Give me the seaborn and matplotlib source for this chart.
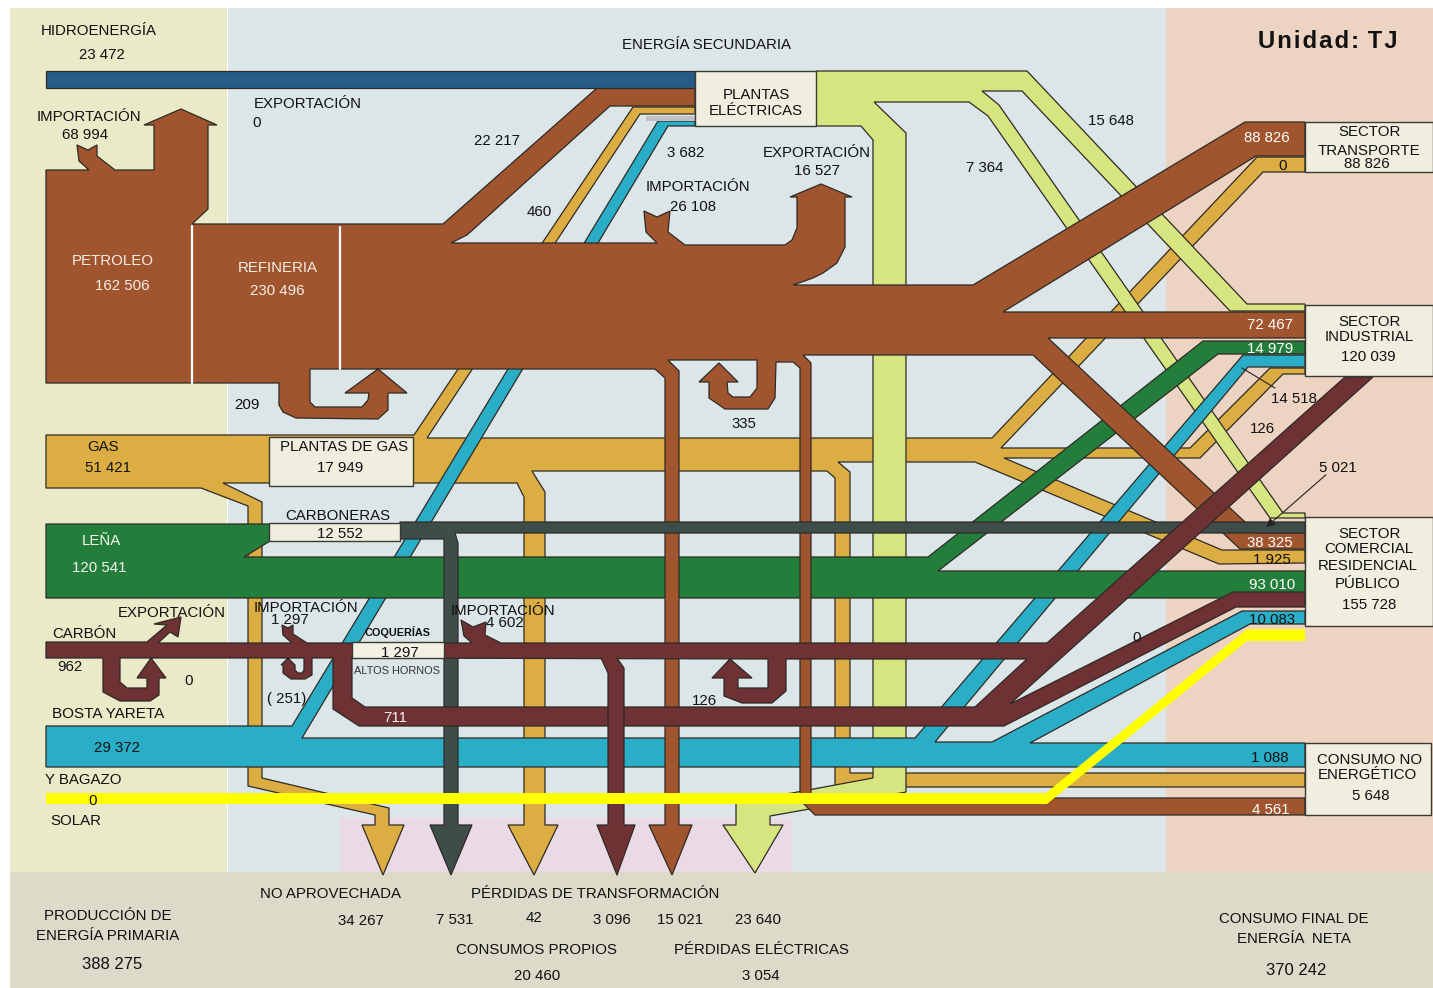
import matplotlib
matplotlib.use("Agg")
import matplotlib.pyplot as plt
from matplotlib.path import Path
from matplotlib.patches import PathPatch, Rectangle
import numpy as np
import seaborn as sns

# Values printed on the balance (TJ)
source_names = ["HIDROENERGÍA", "PETROLEO", "GAS", "LEÑA", "CARBÓN", "BOSTA YARETA", "Y BAGAZO", "SOLAR"]
source_values = ["23 472", "162 506", "51 421", "120 541", "962", "29 372", "0"]
trade_values = ["68 994", "0", "26 108", "16 527", "1 297", "4 602", "0"]
center_values = ["230 496", "17 949", "12 552", "1 297"]
loop_values = ["209", "335", "126", "( 251)", "0", "711"]
electric_inputs = ["22 217", "460", "3 682", "15 648", "7 364"]
transport_values = ["88 826", "0", "88 826"]
industry_values = ["72 467", "14 979", "14 518", "126", "5 021", "120 039"]
comercial_values = ["38 325", "1 925", "93 010", "10 083", "0", "155 728"]
nonenergy_values = ["1 088", "4 561", "5 648"]
loss_values = ["34 267", "7 531", "42", "3 096", "15 021", "23 640"]
own_use_values = ["20 460", "3 054"]
totals = ["388 275", "370 242"]

sns.set_theme(style="white")
plt.rcParams["font.family"] = ["Liberation Sans", "DejaVu Sans"]

names = ["brown", "gas", "green", "blue", "coal", "char", "light", "navy"]
pal = dict(zip(names, sns.color_palette(
    ["#A0552F", "#DCAD42", "#247E3B", "#2AADC6", "#6E3134", "#3F4D4A", "#D7E581", "#265C87"])))
edge = "#2E2A26"
box_col = "#F0EEDF"

fig, ax = plt.subplots(figsize=(14.33, 9.88), dpi=100)
fig.subplots_adjust(0, 0, 1, 1)
ax.set_xlim(0, 1433)
ax.set_ylim(988, 0)
ax.axis("off")
sns.despine(ax=ax, left=True, bottom=True)


def panel(x0, y0, x1, y1, col, z=0):
    ax.add_patch(Rectangle((x0, y0), x1 - x0, y1 - y0, fc=col, ec="none", zorder=z))


def band(pts, col, z, hole=None, lw=0.9):
    # outline of one flow, hole is an optional inner ring
    pts = list(pts)
    verts = pts + [pts[0]]
    codes = [Path.MOVETO] + [Path.LINETO] * (len(pts) - 1) + [Path.CLOSEPOLY]
    if hole is not None:
        h = list(hole)
        verts += h + [h[0]]
        codes += [Path.MOVETO] + [Path.LINETO] * (len(h) - 1) + [Path.CLOSEPOLY]
    ax.add_patch(PathPatch(Path(np.array(verts, float), codes), fc=col, ec=edge, lw=lw, zorder=z,
                           joinstyle="miter"))


def box(x0, y0, x1, y1, z=20, col=box_col):
    ax.add_patch(Rectangle((x0, y0), x1 - x0, y1 - y0, fc=col, ec="#3A3A34", lw=1.0, zorder=z))


def txt(x, y, s, col="#111111", size=10.8, **kw):
    ax.text(x, y + 1, s, color=col, fontsize=size, ha="center", va="center", zorder=40, **kw)


# background zones
panel(10, 8, 227, 872, "#EAEAC8")
panel(228, 8, 1166, 872, "#DCE6E8")
panel(1166, 8, 1433, 872, "#EDD3C1")
panel(340, 818, 792, 872, "#E9DAE5", z=0.5)
panel(10, 872, 1433, 988, "#DCDAC8", z=1)

# gas
band([(46, 435), (414, 435), (633, 107), (695, 107), (695, 114), (640, 114), (427, 438), (992, 438),
      (1257, 157), (1305, 157), (1305, 172), (1263, 172), (1001, 448), (1190, 448), (1270, 368),
      (1305, 368), (1305, 374), (1283, 374), (1200, 458), (1004, 458), (1222, 550), (1305, 550),
      (1305, 563), (1219, 564), (975, 462), (838, 462), (850, 472), (850, 773), (1305, 773),
      (1305, 787), (835, 787), (835, 478), (827, 471), (532, 471), (545, 492), (545, 825),
      (558, 825), (534, 875), (508, 825), (524, 825), (524, 497), (517, 483), (223, 483),
      (262, 502), (262, 778), (389, 808), (389, 825), (404, 825), (383, 875), (362, 825),
      (375, 825), (375, 815), (248, 786), (248, 506), (201, 488), (46, 488)], pal["gas"], 2)

# electricity out of the plants
band([(816, 71), (1027, 71), (1247, 304), (1305, 304), (1305, 311), (1230, 311), (1022, 91),
      (982, 91), (999, 105), (1283, 513), (1305, 513), (1305, 518), (1270, 518), (988, 116),
      (969, 102), (874, 102), (906, 133), (906, 792), (770, 816), (770, 825), (783, 825),
      (755, 873), (723, 825), (736, 825), (736, 803), (792, 793), (873, 778), (873, 140),
      (861, 126), (816, 126)], pal["light"], 3)

# bosta y bagazo
band([(46, 726), (292, 726), (658, 121), (695, 121), (695, 126), (668, 126), (302, 738), (915, 738),
      (1243, 355), (1305, 355), (1305, 367), (1248, 367), (935, 742), (992, 742), (1242, 611),
      (1305, 611), (1305, 624), (1250, 624), (1030, 743), (1305, 743), (1305, 767), (46, 767)],
     pal["blue"], 4)
panel(646, 116, 695, 121, "#C2C2C4", z=4.5)

# leña
band([(46, 524), (270, 524), (270, 541), (244, 557), (928, 557), (1203, 341), (1305, 341),
      (1305, 354), (1218, 354), (938, 571), (1305, 571), (1305, 598), (46, 598)], pal["green"], 5)

# petroleo, refineria y derivados
band([(46, 170), (89, 170), (79, 161), (77, 145), (88, 150), (97, 145), (97, 156), (115, 170),
      (154, 170), (154, 125), (144, 125), (181, 109), (217, 125), (208, 125), (208, 209), (192, 224),
      (443, 224), (597, 88), (695, 88), (695, 106), (610, 106), (467, 235), (451, 243), (657, 243),
      (646, 232), (644, 211), (657, 217), (670, 211), (668, 232), (685, 245), (785, 245), (792, 240),
      (797, 228), (797, 197), (790, 197), (821, 184), (852, 197), (845, 197), (845, 247), (837, 263),
      (823, 273), (813, 278),
      (793, 285), (973, 285), (1245, 122), (1305, 122), (1305, 156), (1256, 156), (1003, 312),
      (1305, 312), (1305, 338), (1048, 338), (1245, 522), (1258, 533), (1305, 533), (1305, 549),
      (1240, 549), (1033, 355), (803, 355), (811, 363), (811, 798), (1305, 798), (1305, 815),
      (815, 815), (800, 800), (800, 368), (793, 362), (776, 362), (775, 398), (768, 409), (725, 409),
      (709, 398), (709, 382), (699, 382), (719, 363), (738, 382), (727, 382), (728, 393), (733, 397),
      (750, 397), (757, 388), (757, 360), (668, 360), (679, 371), (679, 825), (692, 825), (672, 875),
      (649, 825), (665, 825), (665, 378), (655, 369), (310, 369), (310, 402), (315, 407), (362, 407),
      (368, 400), (369, 393), (345, 393), (378, 369), (407, 393), (388, 393), (388, 410), (378, 419),
      (296, 418), (283, 412), (279, 405), (279, 383), (46, 383)], pal["brown"], 6)
ax.plot([192, 192], [226, 383], color="white", lw=1.6, zorder=6.5)
ax.plot([340, 340], [227, 369], color="white", lw=1.6, zorder=6.5)

# carboneras
band([(400, 522), (1305, 522), (1305, 533), (455, 533), (458, 543), (458, 825), (472, 825),
      (451, 875), (430, 825), (444, 825), (444, 539), (400, 539)], pal["char"], 7)

# carbon, coque y altos hornos
coal_outer = [(46, 642), (147, 642), (167, 625), (154, 624), (181, 617), (178, 637), (170, 632),
              (158, 643), (292, 643), (283, 635), (282, 625), (288, 628), (293, 625), (293, 634),
              (307, 643), (472, 643), (464, 636), (461, 620), (473, 627), (486, 622), (485, 635),
              (501, 643), (1047, 643), (1345, 377), (1373, 377), (1010, 704), (1233, 592), (1305, 592),
              (1305, 607), (1236, 607), (1004, 726), (359, 726), (333, 709), (333, 658), (312, 658),
              (312, 675), (305, 679), (291, 679), (283, 673), (283, 665), (281, 665), (288, 658),
              (295, 665), (295, 670), (298, 673), (302, 673), (304, 670), (304, 658), (120, 658),
              (120, 682), (127, 688), (147, 688), (147, 678), (137, 678), (151, 658), (166, 678),
              (159, 678), (159, 695), (150, 701), (120, 701), (103, 692), (103, 658), (46, 658)]
coal_hole = [(352, 658), (352, 698), (365, 707), (975, 707), (1027, 659), (786, 659), (786, 691),
             (772, 703), (742, 703), (724, 696), (724, 678), (712, 678), (730, 659), (752, 678),
             (738, 678), (738, 688), (768, 688), (768, 659)]
band(coal_outer, pal["coal"], 8, hole=coal_hole)
stem = [(601, 658), (608, 673), (608, 825), (597, 825), (617, 875), (635, 825), (624, 825), (624, 668),
        (617, 658)]
ax.fill(*zip(*stem), color=pal["coal"], lw=0, zorder=8.5)
ax.plot(*zip(*stem), color=edge, lw=0.9, zorder=8.6)

# hidro on top of the zones
band([(46, 71), (695, 71), (695, 88), (46, 88)], pal["navy"], 9)

# solar
ax.fill([46, 1046, 1247, 1305, 1305, 1247, 1047, 46], [793, 793, 629, 629, 641, 641, 804, 804],
        color="#FFFF00", lw=0, zorder=30)

# boxes
box(695, 71, 816, 126)
box(269, 437, 413, 486)
box(269, 523, 400, 541)
box(352, 642, 444, 658, col="#F4F1E4")
box(1305, 122, 1433, 172)
box(1305, 305, 1433, 376)
box(1305, 517, 1433, 626)
box(1305, 743, 1431, 815)

# pointers
ax.plot([1242, 1275], [368, 388], color="#222222", lw=0.8, zorder=35)
ax.annotate("", xy=(1264, 529), xytext=(1328, 473), zorder=35,
            arrowprops=dict(arrowstyle="-|>", color="#222222", lw=0.8, mutation_scale=13))

# labels
txt(99, 30, source_names[0])
txt(102, 54, source_values[0])
txt(707, 44, "ENERGÍA SECUNDARIA")
txt(1328, 40, "U\u200an\u200ai\u200ad\u200aa\u200ad\u200a:\u200a T\u200aJ", size=17.2, weight="bold")
txt(89, 116, "IMPORTACIÓN")
txt(85, 134, trade_values[0])
txt(308, 103, "EXPORTACIÓN")
txt(257, 122, trade_values[1])
txt(497, 140, electric_inputs[0])
txt(539, 211, electric_inputs[1])
txt(686, 152, electric_inputs[2])
txt(698, 186, "IMPORTACIÓN")
txt(693, 206, trade_values[2])
txt(817, 152, "EXPORTACIÓN")
txt(817, 170, trade_values[3])
txt(756, 94, "PLANTAS")
txt(756, 110, "ELÉCTRICAS")
txt(1111, 120, electric_inputs[3])
txt(985, 167, electric_inputs[4])

txt(1267, 137, transport_values[0], "white")
txt(1283, 165, transport_values[1])
txt(1370, 131, "SECTOR")
txt(1369, 150, "TRANSPORTE")
txt(1367, 163, transport_values[2])
txt(1370, 321, "SECTOR")
txt(1369, 336, "INDUSTRIAL")
txt(1368, 356, industry_values[5])
txt(1270, 324, industry_values[0], "white")
txt(1270, 348, industry_values[1], "white")
txt(1294, 398, industry_values[2])
txt(1262, 428, industry_values[3])
txt(1338, 467, industry_values[4])

txt(113, 260, source_names[1], "#F5EFE6")
txt(122, 285, source_values[1], "#F5EFE6")
txt(278, 267, "REFINERIA", "#F5EFE6")
txt(277, 290, center_values[0], "#F5EFE6")
txt(247, 404, loop_values[0])
txt(744, 423, loop_values[1])

txt(103, 446, source_names[2])
txt(108, 467, source_values[2])
txt(344, 446, "PLANTAS DE GAS")
txt(340, 467, center_values[1])
txt(338, 515, "CARBONERAS")
txt(340, 533, center_values[2])
txt(101, 540, source_names[3], "#F5F5EE")
txt(99, 567, source_values[3], "#F5F5EE")

txt(172, 612, "EXPORTACIÓN")
txt(84, 633, source_names[4])
txt(70, 666, source_values[4])
txt(189, 680, loop_values[4])
txt(108, 713, source_names[5], size=11)
txt(306, 607, "IMPORTACIÓN")
txt(290, 619, trade_values[4])
txt(287, 698, loop_values[3])
txt(398, 631, "COQUERÍAS", size=7.8, weight="bold")
txt(400, 652, center_values[3])
txt(397, 670, "ALTOS HORNOS", "#333333", size=7.9)
txt(503, 610, "IMPORTACIÓN")
txt(505, 622, trade_values[5])
txt(395, 717, loop_values[5], "#F5EFE6")
txt(704, 700, loop_values[2])
txt(117, 747, source_values[5])
txt(83, 779, source_names[6])
txt(93, 800, source_values[6])
txt(76, 820, source_names[7])

txt(1270, 542, comercial_values[0], "white")
txt(1272, 559, comercial_values[1])
txt(1272, 584, comercial_values[2], "white")
txt(1272, 619, comercial_values[3])
txt(1137, 637, comercial_values[4])
txt(1370, 533, "SECTOR")
txt(1369, 548, "COMERCIAL")
txt(1368, 565, "RESIDENCIAL")
txt(1368, 583, "PÚBLICO")
txt(1369, 604, comercial_values[5])

txt(1270, 757, nonenergy_values[0])
txt(1271, 809, nonenergy_values[1], "white")
txt(1370, 759, "CONSUMO NO")
txt(1367, 774, "ENERGÉTICO")
txt(1371, 795, nonenergy_values[2])

txt(331, 893, "NO APROVECHADA")
txt(595, 893, "PÉRDIDAS DE TRANSFORMACIÓN")
txt(361, 920, loss_values[0])
txt(455, 919, loss_values[1])
txt(534, 917, loss_values[2])
txt(612, 919, loss_values[3])
txt(680, 919, loss_values[4])
txt(758, 919, loss_values[5])
txt(537, 949, "CONSUMOS PROPIOS")
txt(537, 975, own_use_values[0])
txt(762, 949, "PÉRDIDAS ELÉCTRICAS")
txt(761, 975, own_use_values[1])
txt(108, 915, "PRODUCCIÓN DE")
txt(108, 935, "ENERGÍA PRIMARIA")
txt(112, 963, totals[0], size=12)
txt(1294, 918, "CONSUMO FINAL DE")
txt(1294, 938, "ENERGÍA  NETA")
txt(1296, 969, totals[1], size=12)

fig.savefig("out.png", dpi=100)
